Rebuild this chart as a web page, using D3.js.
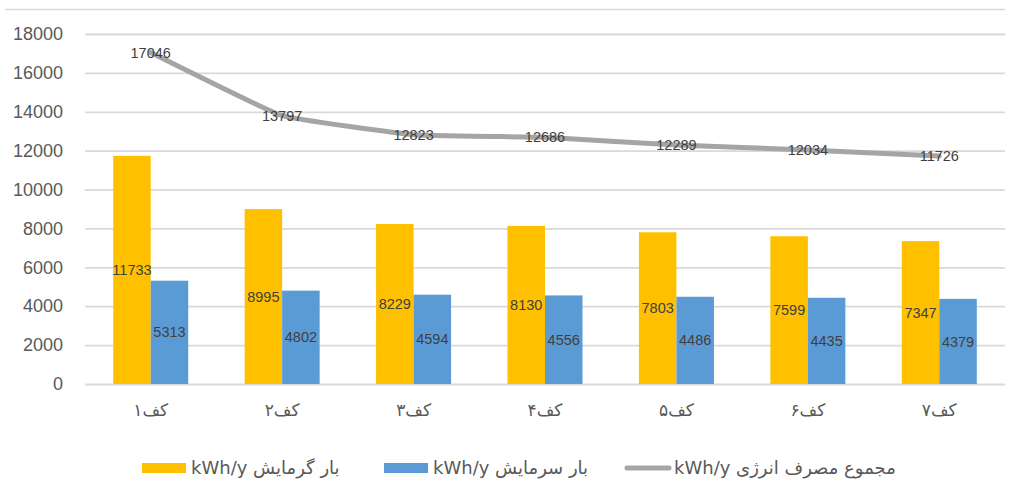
<!DOCTYPE html>
<html>
<head>
<meta charset="utf-8">
<script src="https://cdn.jsdelivr.net/npm/d3@7"></script>
<style>
  body { margin: 0; background: #fff; }
  svg { font-family: "Liberation Sans", "DejaVu Sans", sans-serif; }
</style>
</head>
<body>
<div id="chart"></div>
<script>
// data
const categories = ["کف۱", "کف۲", "کف۳", "کف۴", "کف۵", "کف۶", "کف۷"];
const heating = [11733, 8995, 8229, 8130, 7803, 7599, 7347];
const cooling = [5313, 4802, 4594, 4556, 4486, 4435, 4379];
const total = [17046, 13797, 12823, 12686, 12289, 12034, 11726];
const yTicks = [0, 2000, 4000, 6000, 8000, 10000, 12000, 14000, 16000, 18000];
const legendLabels = ["kWh/y بار گرمایش", "kWh/y بار سرمایش", "kWh/y مجموع مصرف انرژی"];

const W = 1009, H = 484;
const margin = { top: 34, right: 4, bottom: 100, left: 85 };
const innerW = W - margin.left - margin.right;
const innerH = H - margin.top - margin.bottom;

const svg = d3.select("#chart").append("svg")
    .attr("width", W)
    .attr("height", H);

// thin frame line at the top of the picture
svg.append("line")
    .attr("x1", 5).attr("x2", W - 4)
    .attr("y1", 9.5).attr("y2", 9.5)
    .attr("stroke", "#d9d9d9").attr("stroke-width", 1.5);

const g = svg.append("g")
    .attr("transform", `translate(${margin.left},${margin.top})`);

const x = d3.scaleBand()
    .domain(categories)
    .range([0, innerW]);

const x1 = d3.scaleBand()
    .domain(["heat", "cool"])
    .range([0, x.bandwidth()])
    .paddingOuter(0.752);

const y = d3.scaleLinear()
    .domain([0, 18000])
    .range([innerH, 0]);

// gridlines + y labels
const yAxis = g.append("g")
    .call(d3.axisLeft(y).tickValues(yTicks).tickSize(-innerW).tickPadding(22).tickFormat(d3.format("d")));
yAxis.select(".domain").remove();
yAxis.selectAll(".tick line")
    .attr("stroke", "#d9d9d9")
    .attr("stroke-width", 1.8);
yAxis.selectAll(".tick text")
    .attr("fill", "#595959")
    .style("font-size", "18px");

// x labels
g.append("g")
    .attr("transform", `translate(0,${innerH})`)
    .call(d3.axisBottom(x).tickSize(0).tickPadding(20))
    .call(a => a.select(".domain").remove())
    .selectAll("text")
    .attr("fill", "#595959")
    .style("font-size", "17px")
    .style("font-family", "'DejaVu Sans', sans-serif");

const rows = categories.map((c, i) => ({ cat: c, heat: heating[i], cool: cooling[i], total: total[i] }));
const colors = { heat: "#FFC000", cool: "#5B9BD5" };

const groups = g.selectAll(".grp")
    .data(rows)
    .enter()
    .append("g")
    .attr("class", "grp")
    .attr("transform", d => `translate(${x(d.cat)},0)`);

["heat", "cool"].forEach(k => {
    groups.append("rect")
        .attr("x", x1(k))
        .attr("width", x1.bandwidth())
        .attr("y", d => y(d[k]))
        .attr("height", d => innerH - y(d[k]))
        .attr("fill", colors[k]);

    groups.append("text")
        .attr("x", x1(k) + x1.bandwidth() / 2)
        .attr("y", d => (y(d[k]) + innerH) / 2)
        .attr("dy", "0.35em")
        .attr("text-anchor", "middle")
        .attr("fill", "#404040")
        .style("font-size", "14.5px")
        .text(d => d[k]);
});

// total line (lightly smoothed)
const line = d3.line()
    .x(d => x(d.cat) + x.bandwidth() / 2)
    .y(d => y(d.total))
    .curve(d3.curveCardinal.tension(0.7));

g.append("path")
    .datum(rows)
    .attr("fill", "none")
    .attr("stroke", "#A5A5A5")
    .attr("stroke-width", 5)
    .attr("stroke-linecap", "round")
    .attr("d", line);

g.selectAll(".tot-label")
    .data(rows)
    .enter()
    .append("text")
    .attr("class", "tot-label")
    .attr("x", d => x(d.cat) + x.bandwidth() / 2)
    .attr("y", d => y(d.total))
    .attr("dy", "0.35em")
    .attr("text-anchor", "middle")
    .attr("fill", "#404040")
    .style("font-size", "14.5px")
    .text(d => d.total);

// legend
const legendX = [142, 384, 625];
const legend = svg.selectAll(".legend")
    .data(legendLabels)
    .enter()
    .append("g")
    .attr("class", "legend")
    .attr("transform", (d, i) => `translate(${legendX[i]},468)`);

legend.each(function (d, i) {
    const el = d3.select(this);
    if (i < 2) {
        el.append("rect")
            .attr("x", 0).attr("y", -5)
            .attr("width", 44).attr("height", 10)
            .attr("fill", i === 0 ? colors.heat : colors.cool);
    } else {
        el.append("line")
            .attr("x1", 2).attr("x2", 44)
            .attr("y1", 0).attr("y2", 0)
            .attr("stroke", "#A5A5A5")
            .attr("stroke-width", 5)
            .attr("stroke-linecap", "round");
    }
    el.append("text")
        .attr("x", 49)
        .attr("y", 0)
        .attr("dy", "0.35em")
        .attr("fill", "#595959")
        .style("font-size", "18px")
        .style("font-family", "'DejaVu Sans', sans-serif")
        .text(d);
});
</script>
</body>
</html>
